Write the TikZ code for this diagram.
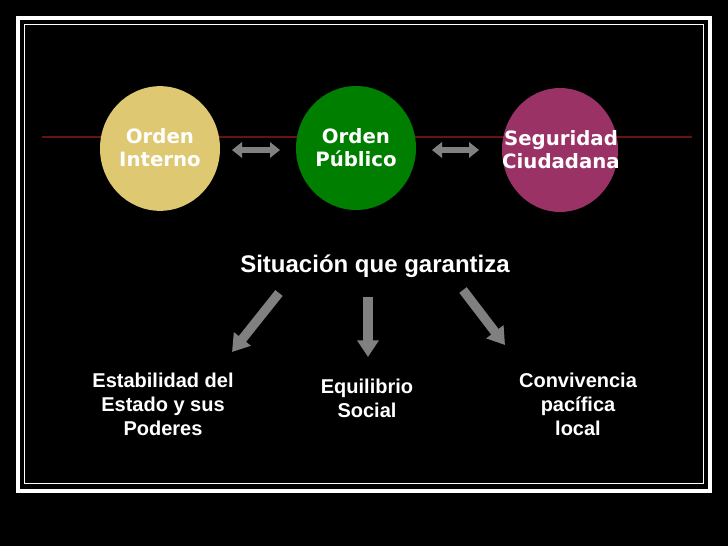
\documentclass[tikz,border=0pt]{standalone}
\usepackage{fontspec}
\setmainfont{Liberation Sans}
\newfontfamily\verd{DejaVu Sans}
\usetikzlibrary{shapes.geometric,arrows.meta}
\definecolor{ygold}{RGB}{222,200,114}
\definecolor{dgreen}{RGB}{0,126,0}
\definecolor{plum}{RGB}{155,50,102}
\definecolor{arrgray}{RGB}{128,128,128}
\definecolor{linered}{RGB}{105,18,18}
\tikzset{
  blob/.style={ellipse, inner sep=0pt, draw=none},
  blobtext/.style={text=white, font=\verd\bfseries\fontsize{14.8pt}{17.3pt}\selectfont, align=center, inner sep=0pt},
  lowtext/.style={text=white, font=\bfseries\fontsize{15pt}{18pt}\selectfont, align=center, inner sep=0pt},
  dblarrow/.style={arrgray, line width=4.5pt, {Triangle[width=11.5pt,length=7.5pt]}-{Triangle[width=11.5pt,length=7.5pt]}},
  downarrow/.style={arrgray, line width=7pt, -{Triangle[width=15.5pt,length=12.5pt]}}
}
\begin{document}
\begin{tikzpicture}[x=0.75pt,y=-0.75pt]
\fill[black] (0,0) rectangle (728,546);
\useasboundingbox (0,0) rectangle (728,546);
% frame
\draw[white, line width=3pt] (18,18) rectangle (710,491);
\draw[white, line width=0.9pt] (24.5,24.5) rectangle (703.5,483.5);
% red line
\coordinate (rl) at (42,137);
\coordinate (rr) at (692,137);
\draw[linered, line width=1.1pt] (rl) -- (rr);
% ellipses
\node[blob, fill=ygold, minimum width=90pt, minimum height=93.5pt] (e1) at (160,148.5) {};
\node[blob, fill=dgreen, minimum width=90pt, minimum height=93pt] (e2) at (356,148) {};
\node[blob, fill=plum, minimum width=87pt, minimum height=93pt] (e3) at (560,150) {};
\node[blobtext] (t1) at (160,148) {Orden\\Interno};
\node[blobtext] (t2) at (356,148) {Orden\\Público};
\node[blobtext] (t3) at (561,150) {Seguridad\\Ciudadana};
% double arrows
\coordinate (d1a) at (232,150);
\coordinate (d1b) at (280,150);
\coordinate (d2a) at (432,150);
\coordinate (d2b) at (479,150);
\draw[dblarrow] (d1a) -- (d1b);
\draw[dblarrow] (d2a) -- (d2b);
% title
\node[lowtext, font=\bfseries\fontsize{18pt}{20pt}\selectfont, anchor=base] (sit) at (375,272) {Situación que garantiza};
% lower texts
\node[lowtext] (b1) at (163,404) {Estabilidad del\\Estado y sus\\Poderes};
\node[lowtext] (b2) at (367,398) {Equilibrio\\Social};
\node[lowtext] (b3) at (578,404) {Convivencia\\pacífica\\local};
% down arrows
\coordinate (s1) at (279,293);
\coordinate (s2) at (368,297);
\coordinate (s3) at (463,290);
\coordinate (p1) at (232,352);
\coordinate (p2) at (368,357);
\coordinate (p3) at (505,345);
\draw[downarrow] (s1) -- (p1);
\draw[downarrow] (s2) -- (p2);
\draw[downarrow] (s3) -- (p3);
\end{tikzpicture}
\end{document}
